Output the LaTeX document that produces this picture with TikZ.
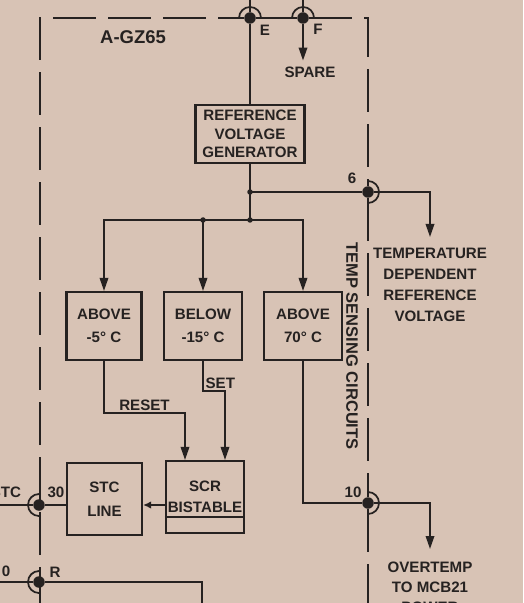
\documentclass[tikz,border=0pt]{standalone}
\usepackage{fontspec}
\setmainfont{Liberation Sans}
\usetikzlibrary{arrows.meta,positioning}
\definecolor{paper}{RGB}{216,195,181}
\definecolor{ink}{RGB}{38,34,33}
\tikzset{
  blockbox/.style={draw=ink, line width=1.2pt, align=center, inner sep=1pt, text=ink, font=\fontsize{8.6}{13}\selectfont\bfseries},
  tag/.style={text=ink, inner sep=1pt, font=\fontsize{8.6}{12}\selectfont\bfseries},
  wire/.style={draw=ink, line width=1pt},
  wirearrow/.style={wire, -{Triangle[length=2.6mm,width=1.7mm]}},
  frame/.style={draw=ink, line width=0.9pt, dash pattern=on 8.6mm off 2.4mm},
  jackdot/.style={circle, fill=ink, inner sep=0pt, minimum size=2.3mm},
  joint/.style={circle, fill=ink, inner sep=0pt, minimum size=1.1mm}
}

\begin{document}
\begin{tikzpicture}[x=0.2mm,y=-0.2mm]
\useasboundingbox (0,0) rectangle (523,603);
\fill[paper] (0,0) rectangle (523,603);
\clip (0,0) rectangle (523,603);

\node[jackdot] (pinE) at (250,18) {};
\node[jackdot] (pinF) at (303,18) {};
\node[jackdot] (pin6) at (368,192) {};
\node[jackdot] (pin10) at (368,503) {};
\node[jackdot] (pin30) at (39,505) {};
\node[jackdot] (pinR) at (39,582) {};
\draw[wire] (pinE.center) ++(-11,0) arc[start angle=180,end angle=360,radius=11];
\draw[wire] (pinF.center) ++(-11,0) arc[start angle=180,end angle=360,radius=11];
\draw[wire] (pin6.center) ++(0,-11) arc[start angle=-90,end angle=90,radius=11];
\draw[wire] (pin10.center) ++(0,-11) arc[start angle=-90,end angle=90,radius=11];
\draw[wire] (pin30.center) ++(0,-11) arc[start angle=270,end angle=90,radius=11];
\draw[wire] (pinR.center) ++(0,-11) arc[start angle=270,end angle=90,radius=11];

\coordinate (frameTL) at (40,18);
\coordinate (frameTR) at (368,18);
\coordinate (frameBL) at (40,610);
\coordinate (frameBR) at (368,610);
\draw[frame] (frameBL) -- (frameTL) -- (pinE);
\draw[frame] (pinE) -- (pinF);
\draw[frame] (pinF) -- (frameTR) -- (pin6);
\draw[frame] (pin6) -- (pin10);
\draw[frame] (pin10) -- (frameBR);

\node[tag, font=\fontsize{10.5}{13}\selectfont\bfseries] (board) at (133,37) {A-GZ65};
\node[tag] (tagE) at (265,30) {E};
\node[tag] (tagF) at (318,29) {F};
\node[tag] (spare) at (310,72) {SPARE};
\node[tag] (tag6) at (352,178) {6};
\node[tag] (tag10) at (353,492) {10};
\node[tag] (tag30) at (56,492) {30};
\node[tag] (tagSTC) at (6,492) {STC};
\node[tag] (tag0) at (6,571) {0};
\node[tag] (tagR) at (55,572) {R};

\node[blockbox, minimum width=21.8mm, minimum height=11.6mm, font=\fontsize{8.6}{10.5}\selectfont\bfseries] (rvg) at (250,134) {REFERENCE\\VOLTAGE\\GENERATOR};
\node[blockbox, minimum width=15mm, minimum height=13.6mm] (abv5) at (104,326) {ABOVE\\-5° C};
\node[blockbox, minimum width=15.6mm, minimum height=13.6mm] (blw15) at (203,326) {BELOW\\-15° C};
\node[blockbox, minimum width=15.6mm, minimum height=13.6mm] (abv70) at (303,326) {ABOVE\\70° C};
\node[blockbox, minimum width=15mm, minimum height=14.4mm, font=\fontsize{8.6}{13.6}\selectfont\bfseries] (stc) at (104.5,499) {STC\\LINE};
\node[blockbox, minimum width=14.8mm, minimum height=14.4mm, font=\fontsize{8.6}{12}\selectfont\bfseries] (scr) at (205,497) {SCR\\BISTABLE};
\draw[wire] ([yshift=3.4mm]scr.south west) -- ([yshift=3.4mm]scr.south east);

\node[tag, align=center, anchor=north] (tempdep) at (430,246) {TEMPERATURE\\DEPENDENT\\REFERENCE\\VOLTAGE};
\node[tag, align=center, anchor=north, font=\fontsize{8.6}{11.3}\selectfont\bfseries] (overtemp) at (430,560) {OVERTEMP\\TO MCB21\\POWER};
\node[tag, rotate=-90, font=\fontsize{9.4}{12}\selectfont\bfseries] (sensing) at (352,346) {TEMP SENSING CIRCUITS};

\node[joint] (jn1) at (250,192) {};
\node[joint] (jn2) at (250,220) {};
\node[joint] (jn3) at (203,220) {};

\coordinate (topE) at (250,-5);
\coordinate (topF) at (303,-5);
\coordinate (stcEnd) at (-5,505);
\coordinate (rEnd) at (-5,582);
\coordinate (rDown) at (202,610);

\draw[wire] (topE) -- (pinE);
\draw[wire] (pinE) -- (rvg);
\draw[wire] (topF) -- (pinF);
\draw[wirearrow] (pinF) -- ([yshift=0.8mm]pinF |- spare.north);
\draw[wire] (rvg) -- (jn2.center);
\draw[wire] (jn1.center) -- (pin6);
\draw[wirearrow] (pin6) -| ([yshift=1.8mm]tempdep.north);
\draw[wirearrow] (jn2.center) -| (abv5.north);
\draw[wirearrow] (jn2.center) -| (abv70.north);
\draw[wirearrow] (jn3.center) -- (blw15.north);
\draw[wirearrow] (abv5.south) -- ++(0,52) -| node[tag, pos=0.25, above] {RESET} ([xshift=-4mm]scr.north);
\draw[wirearrow] (blw15.south) -- ++(0,30) node[tag, anchor=south west] {SET} -| ([xshift=4mm]scr.north);
\draw[wire] (abv70.south) |- (pin10);
\draw[wirearrow] (pin10) -| ([yshift=2.2mm]overtemp.north);
\draw[wire, -{Latex[length=1.6mm,width=1.5mm]}] (scr.west |- pin30) -- (stc.east |- pin30);
\draw[wire] (stc.west |- pin30) -- (pin30);
\draw[wire] (pin30) -- (stcEnd);
\draw[wire] (rEnd) -- (pinR);
\draw[wire] (pinR) -| (rDown);
\end{tikzpicture}
\end{document}
